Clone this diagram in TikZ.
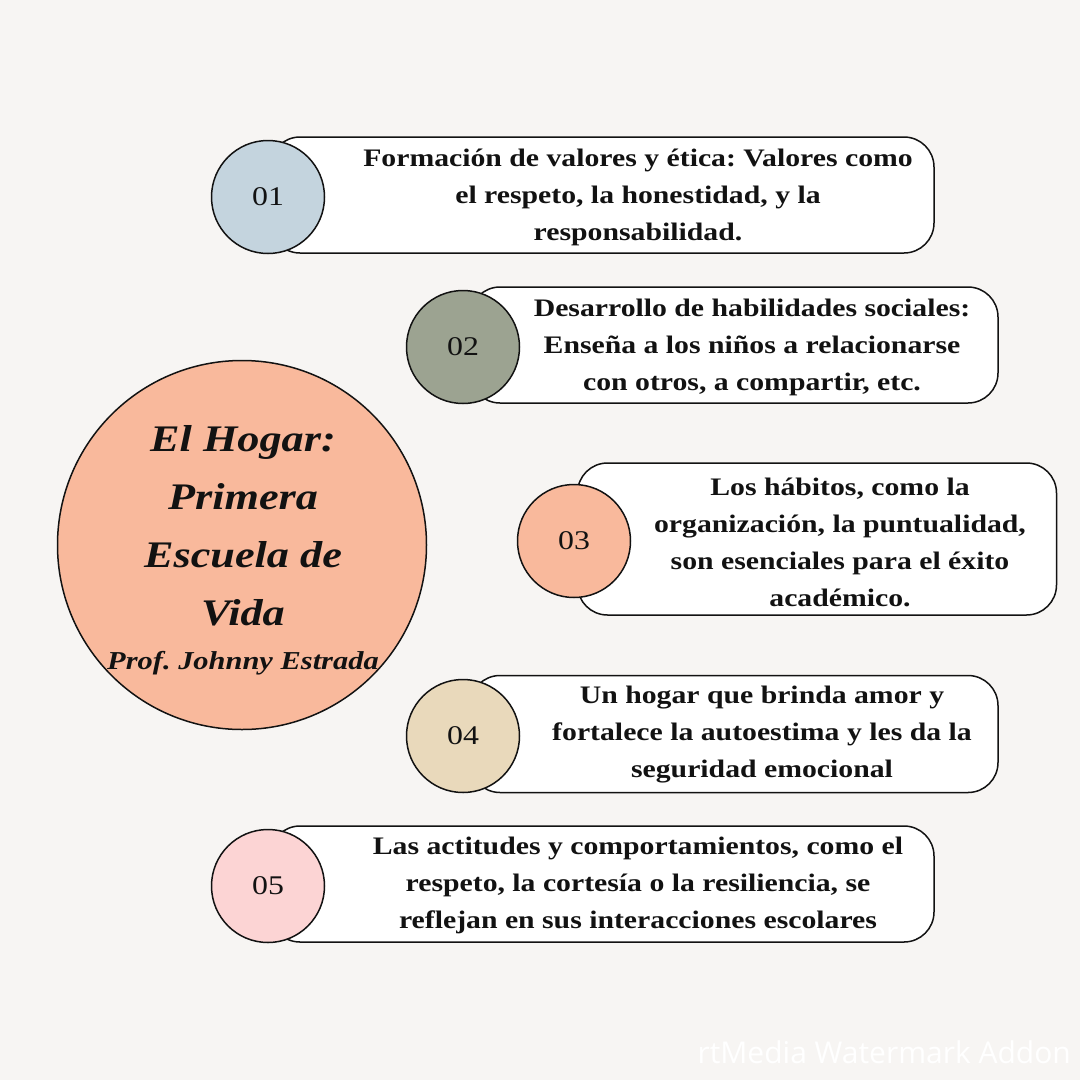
\documentclass[tikz,border=0pt]{standalone}
\usepackage{fontspec}
\setmainfont{Liberation Serif}[FakeStretch=1.18]
\newfontfamily\marcafont{Open Sans}
\frenchspacing
\definecolor{fondo}{HTML}{F7F5F3}
\definecolor{azul}{HTML}{C4D4DE}
\definecolor{salvia}{HTML}{9CA391}
\definecolor{melocoton}{HTML}{F9B99C}
\definecolor{beige}{HTML}{E9D9BB}
\definecolor{rosa}{HTML}{FCD4D4}
\definecolor{tinta}{HTML}{121212}
\begin{document}
\begin{tikzpicture}[x=1pt,y=-1pt,line join=round]
	\tikzset{
		caja/.style={draw=tinta,fill=white,line width=1.5pt,rounded corners=30pt,inner sep=0pt},
		circulo/.style={circle,draw=tinta,line width=1.5pt,minimum size=113pt,inner sep=0pt,text=tinta,font=\fontsize{27}{30}\selectfont},
		texto/.style={align=center,text=tinta,font=\fontsize{25.2}{37}\selectfont\bfseries},
	}
	\fill[fondo](0,0)rectangle(1080,1080);
	\useasboundingbox(0,0)rectangle(1080,1080);
	% cajas y circulos numerados
	\foreach \i/\cx/\cy/\bx/\by/\bw/\bh/\col in{1/268/197/602/195/664/116/azul,2/463/347/734/345/528/116/salvia,3/574/541/817/539/479/152/melocoton,4/463/736/734/734/528/117/beige,5/268/886/602/884/664/116/rosa}{
		\node[caja,minimum width=\bw pt,minimum height=\bh pt](caja\i)at(\bx,\by){};
		\node[circulo,fill=\col](num\i)at(\cx,\cy){0\i};
	}
	\node[texto](texto1)at(638,197){Formación de valores y ética: Valores como\\el respeto, la honestidad, y la\\responsabilidad.};
	\node[texto](texto2)at(752,347){Desarrollo de habilidades sociales:\\Enseña a los niños a relacionarse\\con otros, a compartir, etc.};
	\node[texto](texto3)at(840,542){Los hábitos, como la\\organización, la puntualidad,\\son esenciales para el éxito\\académico.};
	\node[texto](texto4)at(762,735){Un hogar que brinda amor y\\fortalece la autoestima y les da la\\seguridad emocional};
	\node[texto](texto5)at(638,885){Las actitudes y comportamientos, como el\\respeto, la cortesía o la resiliencia, se\\reflejan en sus interacciones escolares};
	% circulo central
	\node[circle,draw=tinta,line width=1.5pt,fill=melocoton,minimum size=369pt,inner sep=0pt](hogar)at(242,545){};
	\node[align=center,text=tinta,font=\fontsize{37.5}{58}\selectfont\bfseries\itshape](titulo)at(243,526){El Hogar:\\Primera\\Escuela de\\Vida};
	\node[text=tinta,font=\fontsize{25.8}{30}\selectfont\bfseries\itshape](autor)at(243,663){Prof. Johnny Estrada};
	\node[text=white,anchor=west,font=\marcafont\fontsize{30}{34}\selectfont](marca)at(694,1052){rtMedia Watermark Addon};
\end{tikzpicture}
\end{document}
